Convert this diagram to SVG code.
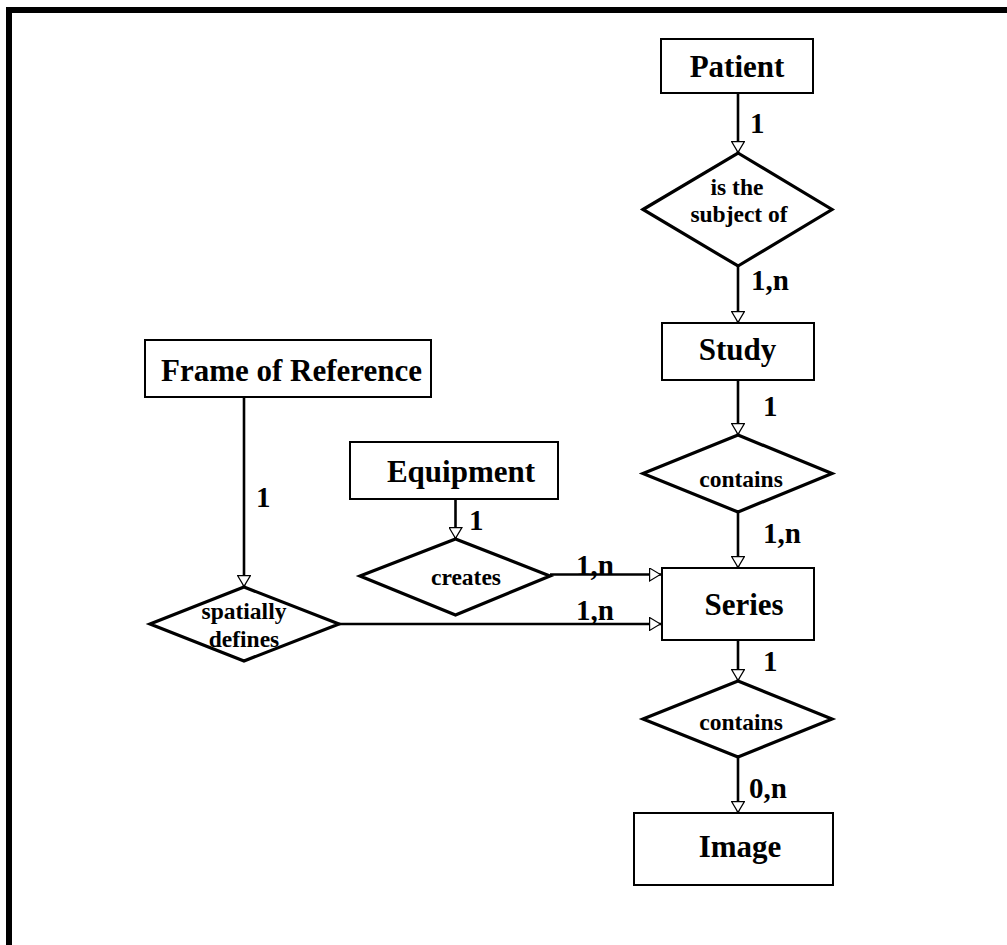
<svg xmlns="http://www.w3.org/2000/svg" width="1007" height="945" viewBox="0 0 1007 945">
<style>
.ent{fill:#fff;stroke:#000;stroke-width:2}
.rel{fill:#fff;stroke:#000;stroke-width:3.2;stroke-linejoin:miter}
.et{font-family:"Liberation Serif","Times New Roman",serif;font-weight:bold;font-size:31px;text-anchor:middle;fill:#000}
.rt{font-family:"Liberation Serif","Times New Roman",serif;font-weight:bold;font-size:23.5px;text-anchor:middle;fill:#000}
.lb{font-family:"Liberation Serif","Times New Roman",serif;font-weight:bold;font-size:29px;fill:#000}
.cn{fill:none;stroke:#000;stroke-width:2.6;marker-end:url(#arr)}
</style>
<defs>
<marker id="arr" viewBox="0 0 12 14" refX="12" refY="7" markerWidth="12" markerHeight="14" markerUnits="userSpaceOnUse" orient="auto">
<path d="M0.6,0.6 L11.4,7 L0.6,13.4 Z" fill="#fff" stroke="#000" stroke-width="1.2"/>
</marker>
</defs>
<rect width="1007" height="945" fill="#fff"/>
<path d="M9,945 V10 H1007" fill="none" stroke="#000" stroke-width="6"/>

<g id="connectors">
<path class="cn" d="M738,93 V153"/>
<path class="cn" d="M738,266 V323"/>
<path class="cn" d="M738,380 V435"/>
<path class="cn" d="M738,512 V568"/>
<path class="cn" d="M738,640 V681"/>
<path class="cn" d="M738,757 V813"/>
<path class="cn" d="M244,397 V587"/>
<path class="cn" d="M455.5,499 V539"/>
<path class="cn" d="M550,574.5 H661"/>
<path class="cn" d="M339,624 H661"/>
<text class="lb" x="750" y="133">1</text>
<text class="lb" x="751" y="290">1,n</text>
<text class="lb" x="763" y="416">1</text>
<text class="lb" x="763" y="543">1,n</text>
<text class="lb" x="763" y="671">1</text>
<text class="lb" x="749" y="798">0,n</text>
<text class="lb" x="256" y="507">1</text>
<text class="lb" x="469" y="530">1</text>
<text class="lb" x="576" y="575">1,n</text>
<text class="lb" x="576" y="620">1,n</text>
</g>

<g id="patient">
<rect class="ent" x="661" y="39" width="152" height="54"/>
<text class="et" x="737" y="77">Patient</text>
</g>
<g id="is-subject-of">
<polygon class="rel" points="643,209.5 738,153 832,209.5 738,266"/>
<text class="rt" x="737" y="195">is the</text>
<text class="rt" x="739" y="222">subject of</text>
</g>
<g id="study">
<rect class="ent" x="662" y="323" width="152" height="57"/>
<text class="et" x="737.5" y="360">Study</text>
</g>
<g id="contains-1">
<polygon class="rel" points="643,473.5 738,435 832,473.5 738,512"/>
<text class="rt" x="741" y="487">contains</text>
</g>
<g id="series">
<rect class="ent" x="662" y="568" width="152" height="72"/>
<text class="et" x="744" y="615">Series</text>
</g>
<g id="contains-2">
<polygon class="rel" points="643,719 738,681 832,719 738,757"/>
<text class="rt" x="741" y="730">contains</text>
</g>
<g id="image">
<rect class="ent" x="634" y="813" width="199" height="72"/>
<text class="et" x="740" y="857">Image</text>
</g>
<g id="frame-of-reference">
<rect class="ent" x="145" y="340" width="286" height="57"/>
<text class="et" x="291.5" y="381">Frame of Reference</text>
</g>
<g id="equipment">
<rect class="ent" x="350" y="442" width="208" height="57"/>
<text class="et" x="461" y="482">Equipment</text>
</g>
<g id="creates">
<polygon class="rel" points="360,576 455.5,539 550,576 455.5,615"/>
<text class="rt" x="466" y="585">creates</text>
</g>
<g id="spatially-defines">
<polygon class="rel" points="150,624 244,587 339,624 244,661"/>
<text class="rt" x="244" y="619">spatially</text>
<text class="rt" x="244" y="647">defines</text>
</g>
</svg>
